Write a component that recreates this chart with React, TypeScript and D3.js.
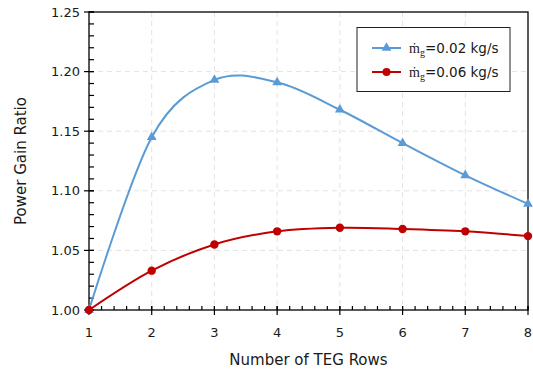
import React from 'react';
import * as d3 from 'd3';

const rows = [1, 2, 3, 4, 5, 6, 7, 8];
const ratioLow = [1.0, 1.145, 1.193, 1.191, 1.168, 1.140, 1.113, 1.089];
const ratioHigh = [1.0, 1.033, 1.055, 1.066, 1.069, 1.068, 1.066, 1.062];
const yTicks = [1.0, 1.05, 1.1, 1.15, 1.2, 1.25];
const legendLabels = ['=0.02 kg/s', '=0.06 kg/s'];

const FONT = '"DejaVu Sans", Verdana, sans-serif';
const BLUE = '#5b9bd5';
const RED = '#c00000';

export default function App() {
  const W = 533, H = 374;
  const left = 89, right = 528, top = 12, bottom = 310;

  const x = d3.scaleLinear().domain([1, 8]).range([left, right]);
  const y = d3.scaleLinear().domain([1.0, 1.25]).range([bottom, top]);

  const line = d3.line<number>()
    .x((_, i) => x(rows[i]))
    .y(d => y(d))
    .curve(d3.curveCatmullRom.alpha(0));

  // minor ticks: 5 per major interval
  const xMinor = d3.range(1, 8.0001, 0.2);
  const yMinor = d3.range(1.0, 1.25001, 0.01);

  const tri = d3.symbol().type(d3.symbolTriangle).size(42)();

  const series = [
    { values: ratioLow, color: BLUE, marker: 'tri' },
    { values: ratioHigh, color: RED, marker: 'circle' },
  ];

  return (
    <svg width={W} height={H} style={{ position: 'absolute', left: 0, top: 0, background: '#fff' }}>
      {/* grid */}
      <g stroke="#e3e3e3" strokeWidth={1} strokeDasharray="5,4">
        {rows.slice(1, -1).map(r => (
          <line key={'gx' + r} x1={x(r)} x2={x(r)} y1={top} y2={bottom} />
        ))}
        {yTicks.slice(1, -1).map(t => (
          <line key={'gy' + t} x1={left} x2={right} y1={y(t)} y2={y(t)} />
        ))}
      </g>

      {/* frame */}
      <rect x={left} y={top} width={right - left} height={bottom - top} fill="none" stroke="#000" strokeWidth={1.3} />

      {/* ticks */}
      <g stroke="#000" strokeWidth={1.2}>
        {yMinor.map((t, i) => (
          <line key={'ym' + i} x1={left} x2={left + 5} y1={y(t)} y2={y(t)} />
        ))}
        {yTicks.map(t => (
          <line key={'yM' + t} x1={left - 5} x2={left + 5} y1={y(t)} y2={y(t)} />
        ))}
        {xMinor.map((t, i) => (
          <line key={'xm' + i} x1={x(t)} x2={x(t)} y1={bottom} y2={bottom - 4} />
        ))}
        {rows.map(r => (
          <line key={'xM' + r} x1={x(r)} x2={x(r)} y1={bottom - 4} y2={bottom + 5} />
        ))}
      </g>

      {/* tick labels */}
      <g fontFamily={FONT} fontSize={13} fill="#1a1a1a">
        {yTicks.map(t => (
          <text key={'yl' + t} x={left - 9} y={y(t)} dy="0.36em" textAnchor="end">{t.toFixed(2)}</text>
        ))}
        {rows.map(r => (
          <text key={'xl' + r} x={x(r)} y={bottom + 27} textAnchor="middle">{r}</text>
        ))}
      </g>

      {/* axis titles */}
      <text x={(left + right) / 2} y={365} textAnchor="middle" fontFamily={FONT} fontSize={15} fill="#1a1a1a">
        Number of TEG Rows
      </text>
      <text transform={`translate(26,${(top + bottom) / 2}) rotate(-90)`} textAnchor="middle" fontFamily={FONT} fontSize={15} fill="#1a1a1a">
        Power Gain Ratio
      </text>

      {/* series */}
      {series.map((s, si) => (
        <g key={'s' + si}>
          <path d={line(s.values) || ''} fill="none" stroke={s.color} strokeWidth={2} />
          {s.values.map((v, i) =>
            s.marker === 'tri' ? (
              <path key={i} d={tri || ''} transform={`translate(${x(rows[i])},${y(v)})`} fill={s.color} />
            ) : (
              <circle key={i} cx={x(rows[i])} cy={y(v)} r={4.2} fill={s.color} />
            )
          )}
        </g>
      ))}

      {/* legend */}
      <g>
        <rect x={357} y={27.5} width={153} height={64} fill="#fff" stroke="#222" strokeWidth={1} />
        {series.map((s, i) => {
          const ly = 48 + i * 24;
          return (
            <g key={'lg' + i}>
              <line x1={372} x2={401} y1={ly} y2={ly} stroke={s.color} strokeWidth={2} />
              {s.marker === 'tri' ? (
                <path d={tri || ''} transform={`translate(386.5,${ly})`} fill={s.color} />
              ) : (
                <circle cx={386.5} cy={ly} r={4} fill={s.color} />
              )}
              <text x={409} y={ly + 5} fontSize={14} fill="#1a1a1a">
                <tspan fontFamily='"Liberation Serif", serif' fontSize={14}>ṁ</tspan>
                <tspan fontFamily='"Liberation Serif", serif' fontSize={10} dy={3}>g</tspan>
                <tspan fontFamily={FONT} fontSize={13.5} dy={-3}>{legendLabels[i]}</tspan>
              </text>
            </g>
          );
        })}
      </g>
    </svg>
  );
}
